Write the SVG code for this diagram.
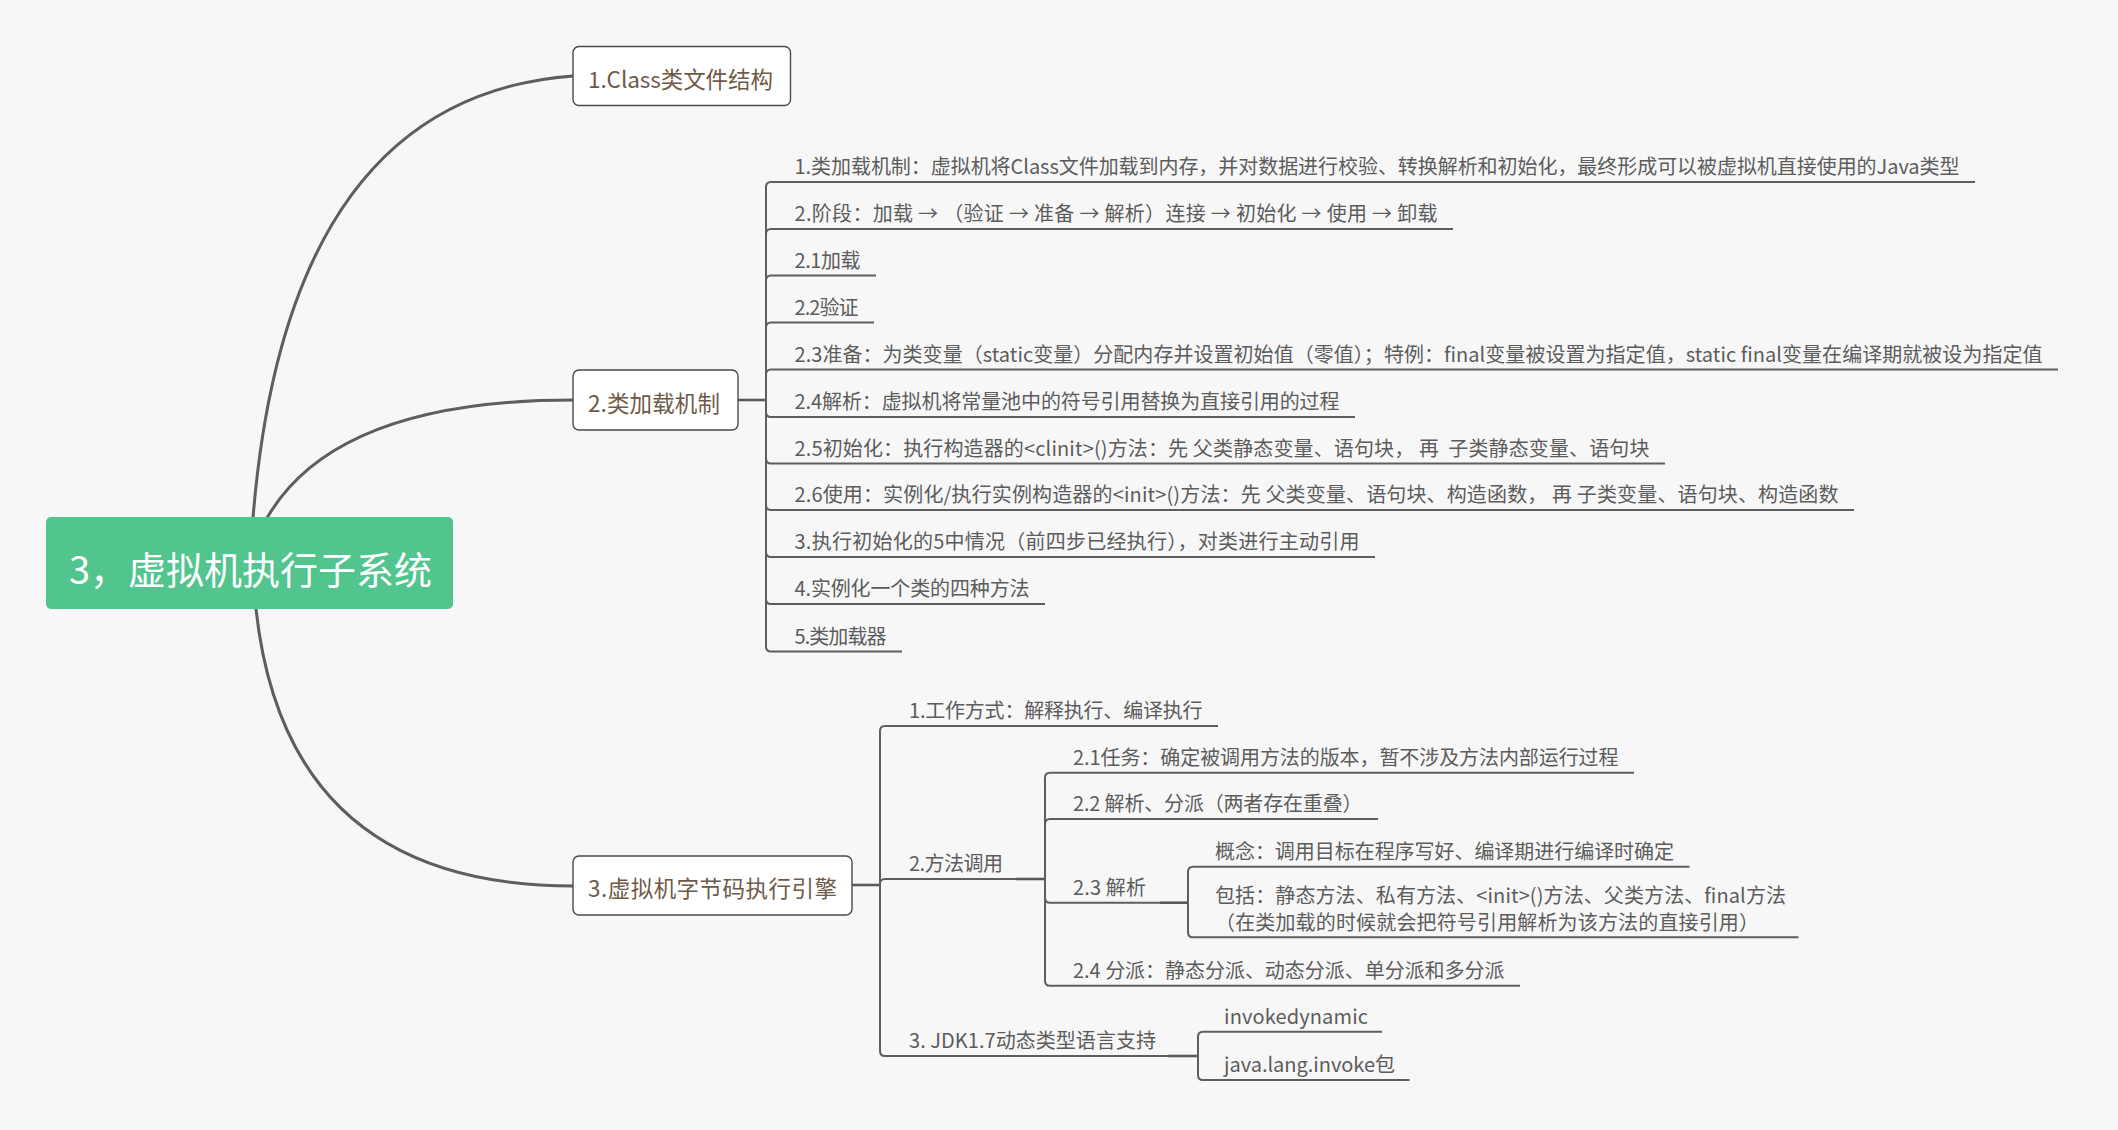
<svg xmlns="http://www.w3.org/2000/svg" width="2118" height="1130" viewBox="0 0 2118 1130">
  <style>
    .bg { fill: #f7f7f7; }
    .branch { fill: none; stroke: #5e5e5e; stroke-width: 3; stroke-linecap: round; }
    .stub { fill: none; stroke: #5a5a5a; stroke-width: 2.6; }
    .line { fill: none; stroke: #5e5e5e; stroke-width: 2; }
    .box { fill: #ffffff; stroke: #4a4a4a; stroke-width: 1.4; }
    .root { fill: #52c48e; }
    .rootText { font-family: "Noto Sans CJK SC", "Liberation Sans", sans-serif; font-size: 38px; fill: #ffffff; }
    .topic { font-family: "Noto Sans CJK SC", "Liberation Sans", sans-serif; font-size: 22.5px; fill: #6e5a47; }
    .sub { font-family: "Noto Sans CJK SC", "Liberation Sans", sans-serif; font-size: 20px; fill: #5c5c5c; }
  </style>
  <rect class="bg" x="0" y="0" width="2118" height="1130"/>

  <g id="connectors">
    <!-- main branches from the central topic -->
    <path class="branch" d="M253,518 Q287,97 573,76"/>
    <path class="branch" d="M267,518 Q335,400 573,400"/>
    <path class="branch" d="M256,609 Q286,886 573,886"/>

    <!-- 2.类加载机制 subtree -->
    <path class="stub" d="M738,400 H766"/>
    <path class="line" d="M766,400 V187 Q766,182 771,182 H1975"/>
    <path class="line" d="M766,400 V234 Q766,229 771,229 H1453"/>
    <path class="line" d="M766,400 V280.5 Q766,275.5 771,275.5 H876"/>
    <path class="line" d="M766,400 V327.5 Q766,322.5 771,322.5 H874"/>
    <path class="line" d="M766,400 V374.5 Q766,369.5 771,369.5 H2058"/>
    <path class="line" d="M766,400 V412 Q766,417 771,417 H1355"/>
    <path class="line" d="M766,400 V458.5 Q766,463.5 771,463.5 H1665"/>
    <path class="line" d="M766,400 V505 Q766,510 771,510 H1854"/>
    <path class="line" d="M766,400 V552 Q766,557 771,557 H1375"/>
    <path class="line" d="M766,400 V599 Q766,604 771,604 H1045"/>
    <path class="line" d="M766,400 V646.5 Q766,651.5 771,651.5 H902"/>

    <!-- 3.虚拟机字节码执行引擎 subtree -->
    <path class="stub" d="M852,885 H880"/>
    <path class="line" d="M880,885 V731 Q880,726 885,726 H1218"/>
    <path class="line" d="M880,885 V884 Q880,879 885,879 H1016"/>
    <path class="line" d="M880,885 V1051 Q880,1056 885,1056 H1168"/>

    <!-- 2.方法调用 children -->
    <path class="stub" d="M1016,879 H1045"/>
    <path class="line" d="M1045,879 V777.7 Q1045,772.7 1050,772.7 H1634"/>
    <path class="line" d="M1045,879 V824 Q1045,819 1050,819 H1378"/>
    <path class="line" d="M1045,879 V897.7 Q1045,902.7 1050,902.7 H1160"/>
    <path class="line" d="M1045,879 V980.7 Q1045,985.7 1050,985.7 H1520"/>

    <!-- 2.3 解析 children -->
    <path class="stub" d="M1160,902.7 H1188"/>
    <path class="line" d="M1188,902.7 V871.7 Q1188,866.7 1193,866.7 H1689.5"/>
    <path class="line" d="M1188,902.7 V932.3 Q1188,937.3 1193,937.3 H1798.5"/>

    <!-- 3. JDK1.7 children -->
    <path class="stub" d="M1168,1056 H1198"/>
    <path class="line" d="M1198,1056 V1036.7 Q1198,1031.7 1203,1031.7 H1382"/>
    <path class="line" d="M1198,1056 V1075 Q1198,1080 1203,1080 H1409.5"/>
  </g>

  <g id="root">
    <rect class="root" x="46" y="517" width="407" height="92" rx="5"/>
    <text class="rootText" x="69" y="584" textLength="363">3，虚拟机执行子系统</text>
  </g>

  <g id="node-class-file">
    <rect class="box" x="573" y="46.5" width="217.5" height="59" rx="6"/>
    <text class="topic" x="588" y="88" textLength="185">1.Class类文件结构</text>
  </g>

  <g id="node-class-loading">
    <rect class="box" x="573" y="370" width="165" height="60" rx="6"/>
    <text class="topic" x="588" y="411.5" textLength="132">2.类加载机制</text>
  </g>

  <g id="node-loading-items">
    <text class="sub" x="794.5" y="174" textLength="1165">1.类加载机制：虚拟机将Class文件加载到内存，并对数据进行校验、转换解析和初始化，最终形成可以被虚拟机直接使用的Java类型</text>
    <text class="sub" x="794.5" y="221" textLength="643">2.阶段：加载 → （验证 → 准备 → 解析）连接 → 初始化 → 使用 → 卸载</text>
    <text class="sub" x="794.5" y="267.5" textLength="66">2.1加载</text>
    <text class="sub" x="794.5" y="314.5" textLength="64">2.2验证</text>
    <text class="sub" x="794.5" y="361.5" textLength="1248">2.3准备：为类变量（static变量）分配内存并设置初始值（零值）；特例：final变量被设置为指定值，static final变量在编译期就被设为指定值</text>
    <text class="sub" x="794.5" y="409" textLength="545">2.4解析：虚拟机将常量池中的符号引用替换为直接引用的过程</text>
    <text class="sub" x="794.5" y="455.5" textLength="855" xml:space="preserve">2.5初始化：执行构造器的&lt;clinit&gt;()方法：先 父类静态变量、语句块， 再  子类静态变量、语句块</text>
    <text class="sub" x="794.5" y="502" textLength="1044" xml:space="preserve">2.6使用：实例化/执行实例构造器的&lt;init&gt;()方法：先 父类变量、语句块、构造函数， 再 子类变量、语句块、构造函数</text>
    <text class="sub" x="794.5" y="549" textLength="565">3.执行初始化的5中情况（前四步已经执行），对类进行主动引用</text>
    <text class="sub" x="794.5" y="596" textLength="235">4.实例化一个类的四种方法</text>
    <text class="sub" x="794.5" y="643.5" textLength="92">5.类加载器</text>
  </g>

  <g id="node-bytecode-engine">
    <rect class="box" x="573" y="856" width="279" height="59" rx="6"/>
    <text class="topic" x="588" y="897" textLength="249">3.虚拟机字节码执行引擎</text>
  </g>

  <g id="node-engine-items">
    <text class="sub" x="909" y="718" textLength="293.5">1.工作方式：解释执行、编译执行</text>
    <text class="sub" x="909" y="871" textLength="94">2.方法调用</text>
    <text class="sub" x="909" y="1048" textLength="247">3. JDK1.7动态类型语言支持</text>
  </g>

  <g id="node-method-call-items">
    <text class="sub" x="1073" y="764.7" textLength="545.5">2.1任务：确定被调用方法的版本，暂不涉及方法内部运行过程</text>
    <text class="sub" x="1073" y="811" textLength="289.5">2.2 解析、分派（两者存在重叠）</text>
    <text class="sub" x="1073" y="894.7" textLength="73">2.3 解析</text>
    <text class="sub" x="1073" y="977.7" textLength="431.5">2.4 分派：静态分派、动态分派、单分派和多分派</text>
  </g>

  <g id="node-resolution-items">
    <text class="sub" x="1215" y="858.7" textLength="459">概念：调用目标在程序写好、编译期进行编译时确定</text>
    <text class="sub" x="1215" y="903" textLength="571">包括：静态方法、私有方法、&lt;init&gt;()方法、父类方法、final方法</text>
    <text class="sub" x="1215" y="930" textLength="544">（在类加载的时候就会把符号引用解析为该方法的直接引用）</text>
  </g>

  <g id="node-jdk17-items">
    <text class="sub" x="1224" y="1023.7" textLength="144">invokedynamic</text>
    <text class="sub" x="1224" y="1072" textLength="171">java.lang.invoke包</text>
  </g>
</svg>
